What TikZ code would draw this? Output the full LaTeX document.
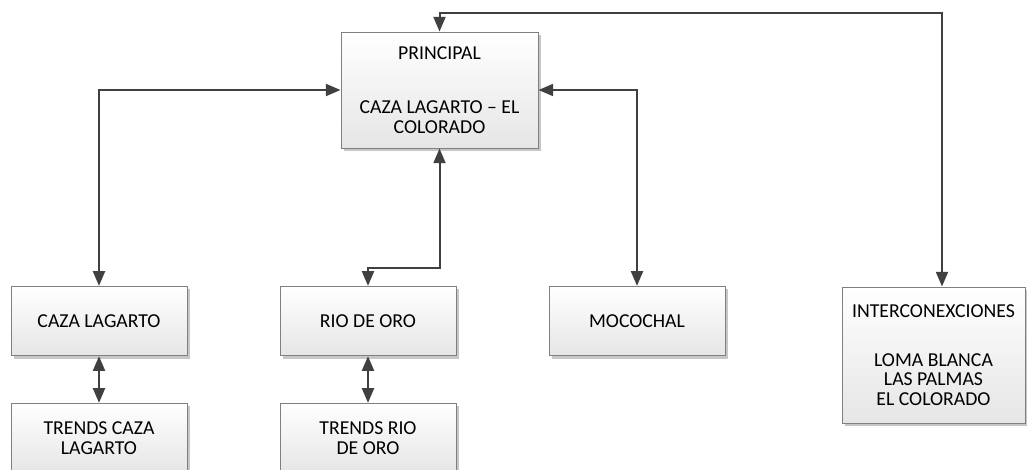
\documentclass[tikz,border=0pt]{standalone}
\usepackage{fontspec}
\setmainfont{Carlito}
\usetikzlibrary{arrows.meta,shadows}
\definecolor{linkgray}{RGB}{64,64,64}
\definecolor{boxgray}{RGB}{128,128,128}

\begin{document}
\begin{tikzpicture}[x=0.75pt,y=-0.75pt,>={Triangle[length=11pt,width=9pt]},
    box/.style={draw=boxgray,line width=0.75pt,top color=white,bottom color=black!10,
        drop shadow={shadow xshift=2.2pt,shadow yshift=-2.2pt,fill=black!22,opacity=1},
        inner sep=0pt,align=center,font=\fontsize{14.8}{14.6}\selectfont},
    small/.style={box,minimum width=132pt,minimum height=52pt},
    link/.style={<->,draw=linkgray,line width=1.5pt}]
    \useasboundingbox (0,0) rectangle (1027,469);

    % Main station
    \node[box,minimum width=147.75pt,minimum height=87pt] (main) at (439.5,90)
        {PRINCIPAL\\[26pt]CAZA LAGARTO -- EL\\COLORADO};

    % Substations
    \node[small] (caza) at (99,321) {CAZA LAGARTO};
    \node[small] (rio) at (368,321) {RIO DE ORO};
    \node[small] (moco) at (637,321) {MOCOCHAL};
    \node[box,minimum width=137.25pt,minimum height=102pt] (inter) at (933.5,355)
        {INTERCONEXCIONES\\[22pt]LOMA BLANCA\\LAS PALMAS\\EL COLORADO};

    % Trends
    \node[small] (tcaza) at (99,438) {TRENDS CAZA\\LAGARTO};
    \node[small] (trio) at (368,438) {TRENDS RIO\\DE ORO};

    % Links
    \coordinate (bus) at (942,13);
    \draw[link] (main.north) |- (bus) -- (bus |- inter.north);
    \draw[link] (main.west) -| (caza.north);
    \draw[link] (main.east) -| (moco.north);
    \draw[link] (main.south) -- ++(0,119) -| (rio.north);
    \draw[link] (caza.south) -- (tcaza.north);
    \draw[link] (rio.south) -- (trio.north);
\end{tikzpicture}
\end{document}
